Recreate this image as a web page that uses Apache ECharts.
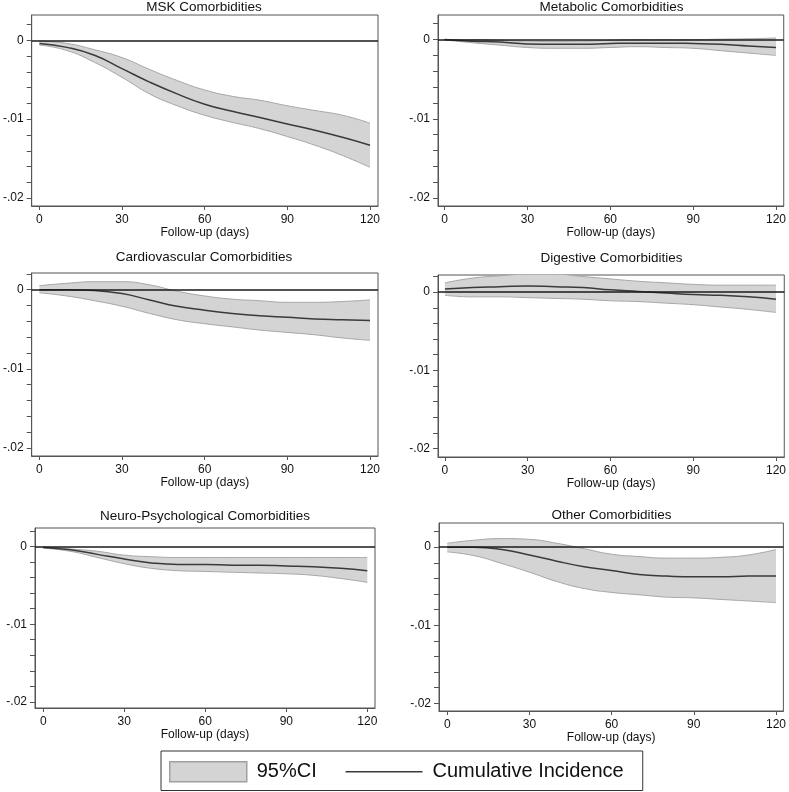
<!DOCTYPE html>
<html>
<head>
<meta charset="utf-8">
<script src="https://cdn.jsdelivr.net/npm/echarts@6/dist/echarts.min.js"></script>
<style>
html,body{margin:0;padding:0;background:#fff;}
#chart{width:789px;height:792px;}
</style>
</head>
<body>
<div id="chart"></div>
<script>
// ---- data ----
const days = [0, 10, 20, 30, 40, 50, 60, 70, 80, 90, 100, 110, 120];
const xTickValues = [0, 30, 60, 90, 120];
const yMinorTicks = [-0.02, -0.018, -0.016, -0.014, -0.012, -0.01, -0.008, -0.006, -0.004, -0.002, 0, 0.002];
const yTickValues = [-0.02, -0.01, 0];
const yTickLabels = ['-.02', '-.01', '0'];
const panelTitles = ['MSK Comorbidities', 'Metabolic Comorbidities', 'Cardiovascular Comorbidities',
  'Digestive Comorbidities', 'Neuro-Psychological Comorbidities', 'Other Comorbidities'];
const xAxisName = 'Follow-up (days)';
const bandName = '95%CI';
const lineName = 'Cumulative Incidence';

const mskEst = [-0.0004,-0.0009,-0.0019,-0.0036,-0.0053,-0.0068,-0.0081,-0.0090,-0.0098,-0.0106,-0.0114,-0.0123,-0.0133];
const mskLo  = [-0.0006,-0.0013,-0.0028,-0.0047,-0.0068,-0.0083,-0.0095,-0.0104,-0.0112,-0.0122,-0.0133,-0.0146,-0.0161];
const mskHi  = [-0.0001,-0.0004,-0.0012,-0.0022,-0.0037,-0.0051,-0.0063,-0.0071,-0.0076,-0.0083,-0.0089,-0.0095,-0.0105];

const metEst = [0,-0.0002,-0.0003,-0.00055,-0.0006,-0.0006,-0.0005,-0.00045,-0.00045,-0.0005,-0.0006,-0.0008,-0.001];
const metLo  = [-0.00005,-0.0004,-0.0007,-0.001,-0.0011,-0.0011,-0.001,-0.0009,-0.001,-0.0011,-0.0014,-0.0017,-0.002];
const metHi  = [0,0,-0.0001,-0.0002,-0.00025,-0.0002,-0.0001,0,0,0,0.00005,0.0001,0.0002];

const cvEst = [0,0,-0.0001,-0.0005,-0.0013,-0.0021,-0.0026,-0.003,-0.0033,-0.0035,-0.0037,-0.0038,-0.0039];
const cvLo  = [-0.0004,-0.0008,-0.0014,-0.0021,-0.003,-0.0038,-0.0043,-0.0047,-0.0051,-0.0054,-0.0057,-0.0061,-0.0064];
const cvHi  = [0.0005,0.0008,0.001,0.001,0.0006,-0.0002,-0.0008,-0.0012,-0.0014,-0.0016,-0.0016,-0.0015,-0.0013];

const digEst = [0.0004,0.0006,0.0007,0.0008,0.0007,0.0006,0.0003,0.0001,-0.0001,-0.0003,-0.0004,-0.0006,-0.0009];
const digLo  = [-0.0004,-0.0006,-0.0006,-0.0007,-0.0008,-0.0009,-0.0011,-0.0012,-0.0014,-0.0016,-0.0019,-0.0022,-0.0026];
const digHi  = [0.0012,0.0018,0.0021,0.0023,0.0023,0.002,0.0017,0.0014,0.0012,0.001,0.0009,0.0009,0.0009];

const neuEst = [-0.0001,-0.0004,-0.001,-0.0016,-0.0021,-0.0023,-0.0023,-0.0024,-0.0024,-0.0025,-0.0026,-0.0028,-0.0031];
const neuLo  = [-0.0002,-0.0006,-0.0014,-0.0022,-0.0028,-0.0031,-0.0032,-0.0033,-0.0034,-0.0035,-0.0037,-0.0041,-0.0046];
const neuHi  = [-0.00005,-0.0003,-0.0006,-0.0011,-0.0013,-0.0014,-0.0014,-0.0014,-0.0014,-0.0014,-0.0014,-0.0014,-0.0014];

const othEst = [0,0,-0.0003,-0.001,-0.0018,-0.0025,-0.003,-0.0035,-0.0037,-0.0038,-0.0038,-0.0037,-0.0037];
const othLo  = [-0.0006,-0.0011,-0.0021,-0.0032,-0.0044,-0.0053,-0.0058,-0.0061,-0.0064,-0.0065,-0.0067,-0.0069,-0.0071];
const othHi  = [0.0005,0.0009,0.0011,0.001,0.0005,-0.0002,-0.0009,-0.0012,-0.0014,-0.0014,-0.0013,-0.001,-0.0003];

const panelData = [
  [mskEst, mskLo, mskHi],
  [metEst, metLo, metHi],
  [cvEst, cvLo, cvHi],
  [digEst, digLo, digHi],
  [neuEst, neuLo, neuHi],
  [othEst, othLo, othHi]
];

// ---- layout (pixels) ----
const layout = [
  {left: 30,  top: 15,  width: 348, height: 191, xMin: -2.8,  xMax: 122.9,  yMin: -0.021,  yMax: 0.0032, tx: 204,   ty: 8},
  {left: 438, top: 15,  width: 347, height: 191, xMin: -2.4,  xMax: 122.8,  yMin: -0.021,  yMax: 0.0031, tx: 611.5, ty: 8},
  {left: 30,  top: 273, width: 348, height: 183, xMin: -2.8,  xMax: 122.9,  yMin: -0.021,  yMax: 0.0021, tx: 204,   ty: 258},
  {left: 438, top: 275, width: 348, height: 182, xMin: -2.5,  xMax: 123.0,  yMin: -0.0211, yMax: 0.0022, tx: 611.5, ty: 259},
  {left: 35,  top: 528, width: 340, height: 180, xMin: -3.07, xMax: 122.85, yMin: -0.0208, yMax: 0.0024, tx: 205,   ty: 517},
  {left: 439, top: 523, width: 345, height: 188, xMin: -3.0,  xMax: 122.7,  yMin: -0.021,  yMax: 0.0031, tx: 611.5, ty: 516}
];

const FONT = '"Liberation Sans", Arial, Helvetica, sans-serif';
const AXIS_COLOR = '#555';
const BAND_FILL = '#d4d4d4';
const BAND_EDGE = '#a6a6a6';
const LINE_COLOR = '#3a3a3a';

const grids = [], xAxes = [], yAxes = [], titles = [], series = [];

layout.forEach((L, i) => {
  grids.push({
    left: L.left, top: L.top, width: L.width, height: L.height,
    show: true, borderColor: AXIS_COLOR, borderWidth: 1, backgroundColor: 'transparent'
  });
  titles.push({
    text: panelTitles[i], left: L.tx, top: L.ty - 8, textAlign: 'center', padding: 0,
    textStyle: {fontFamily: FONT, fontSize: 13.5, fontWeight: 'normal', color: '#111'}
  });
  xAxes.push({
    type: 'value', gridIndex: i, min: L.xMin, max: L.xMax,
    name: xAxisName, nameLocation: 'middle', nameGap: 21,
    nameTextStyle: {fontFamily: FONT, fontSize: 12, color: '#111'},
    splitLine: {show: false},
    axisLine: {show: true, onZero: false, lineStyle: {color: AXIS_COLOR, width: 1}},
    axisTick: {show: true, length: 4, customValues: xTickValues, lineStyle: {color: AXIS_COLOR}},
    axisLabel: {customValues: xTickValues, margin: 8, fontFamily: FONT, fontSize: 12, color: '#111',
      showMinLabel: true, showMaxLabel: true}
  });
  yAxes.push({
    type: 'value', gridIndex: i, min: L.yMin, max: L.yMax,
    splitLine: {show: false},
    axisLine: {show: true, onZero: false, lineStyle: {color: AXIS_COLOR, width: 1}},
    axisTick: {show: true, length: 5, customValues: yMinorTicks, lineStyle: {color: AXIS_COLOR}},
    axisLabel: {customValues: yTickValues, margin: 8, fontFamily: FONT, fontSize: 12, color: '#111',
      formatter: function (v) {
        const k = yTickValues.findIndex(t => Math.abs(t - v) < 1e-9);
        return k >= 0 ? yTickLabels[k] : '';
      }}
  });

  const [est, lo, hi] = panelData[i];
  const stackId = 'ci' + i;
  // rows are [y, x] so that the stacked dimension is y
  series.push({
    name: 'lower' + i, type: 'line', xAxisIndex: i, yAxisIndex: i,
    data: days.map((d, k) => [lo[k], d]),
    encode: {x: 1, y: 0},
    stack: stackId, stackStrategy: 'all', smooth: true, symbol: 'none', silent: true,
    lineStyle: {color: BAND_EDGE, width: 1}, z: 1
  });
  series.push({
    name: bandName, type: 'line', xAxisIndex: i, yAxisIndex: i,
    data: days.map((d, k) => [hi[k] - lo[k], d]),
    encode: {x: 1, y: 0},
    stack: stackId, stackStrategy: 'all', smooth: true, symbol: 'none', silent: true,
    itemStyle: {color: BAND_FILL},
    lineStyle: {color: BAND_EDGE, width: 1},
    areaStyle: {color: BAND_FILL, opacity: 1}, z: 1
  });
  series.push({
    name: lineName, type: 'line', xAxisIndex: i, yAxisIndex: i,
    data: days.map((d, k) => [d, est[k]]),
    smooth: true, symbol: 'none', silent: true,
    itemStyle: {color: LINE_COLOR},
    lineStyle: {color: LINE_COLOR, width: 1.5}, z: 3,
    markLine: {
      silent: true, symbol: 'none', label: {show: false},
      lineStyle: {color: '#1a1a1a', width: 1.5, type: 'solid'},
      data: [{yAxis: 0}]
    }
  });
});

const chart = echarts.init(document.getElementById('chart'), null, {renderer: 'canvas'});
chart.setOption({
  animation: false,
  backgroundColor: '#fff',
  title: titles,
  grid: grids,
  xAxis: xAxes,
  yAxis: yAxes,
  legend: {
    left: 161, top: 751,
    orient: 'horizontal',
    padding: [10, 19, 8, 8],
    borderColor: '#333', borderWidth: 1,
    itemWidth: 77, itemHeight: 20, itemGap: 28,
    selectedMode: false,
    textStyle: {fontFamily: FONT, fontSize: 20, color: '#111', padding: [0, 0, 0, 5]},
    data: [
      {name: bandName, icon: 'rect', itemStyle: {color: BAND_FILL, borderColor: '#a0a0a0', borderWidth: 1.5}},
      {name: lineName, icon: 'line', itemStyle: {color: LINE_COLOR, borderColor: LINE_COLOR, borderWidth: 1.5}}
    ]
  },
  series: series
});
</script>
</body>
</html>
